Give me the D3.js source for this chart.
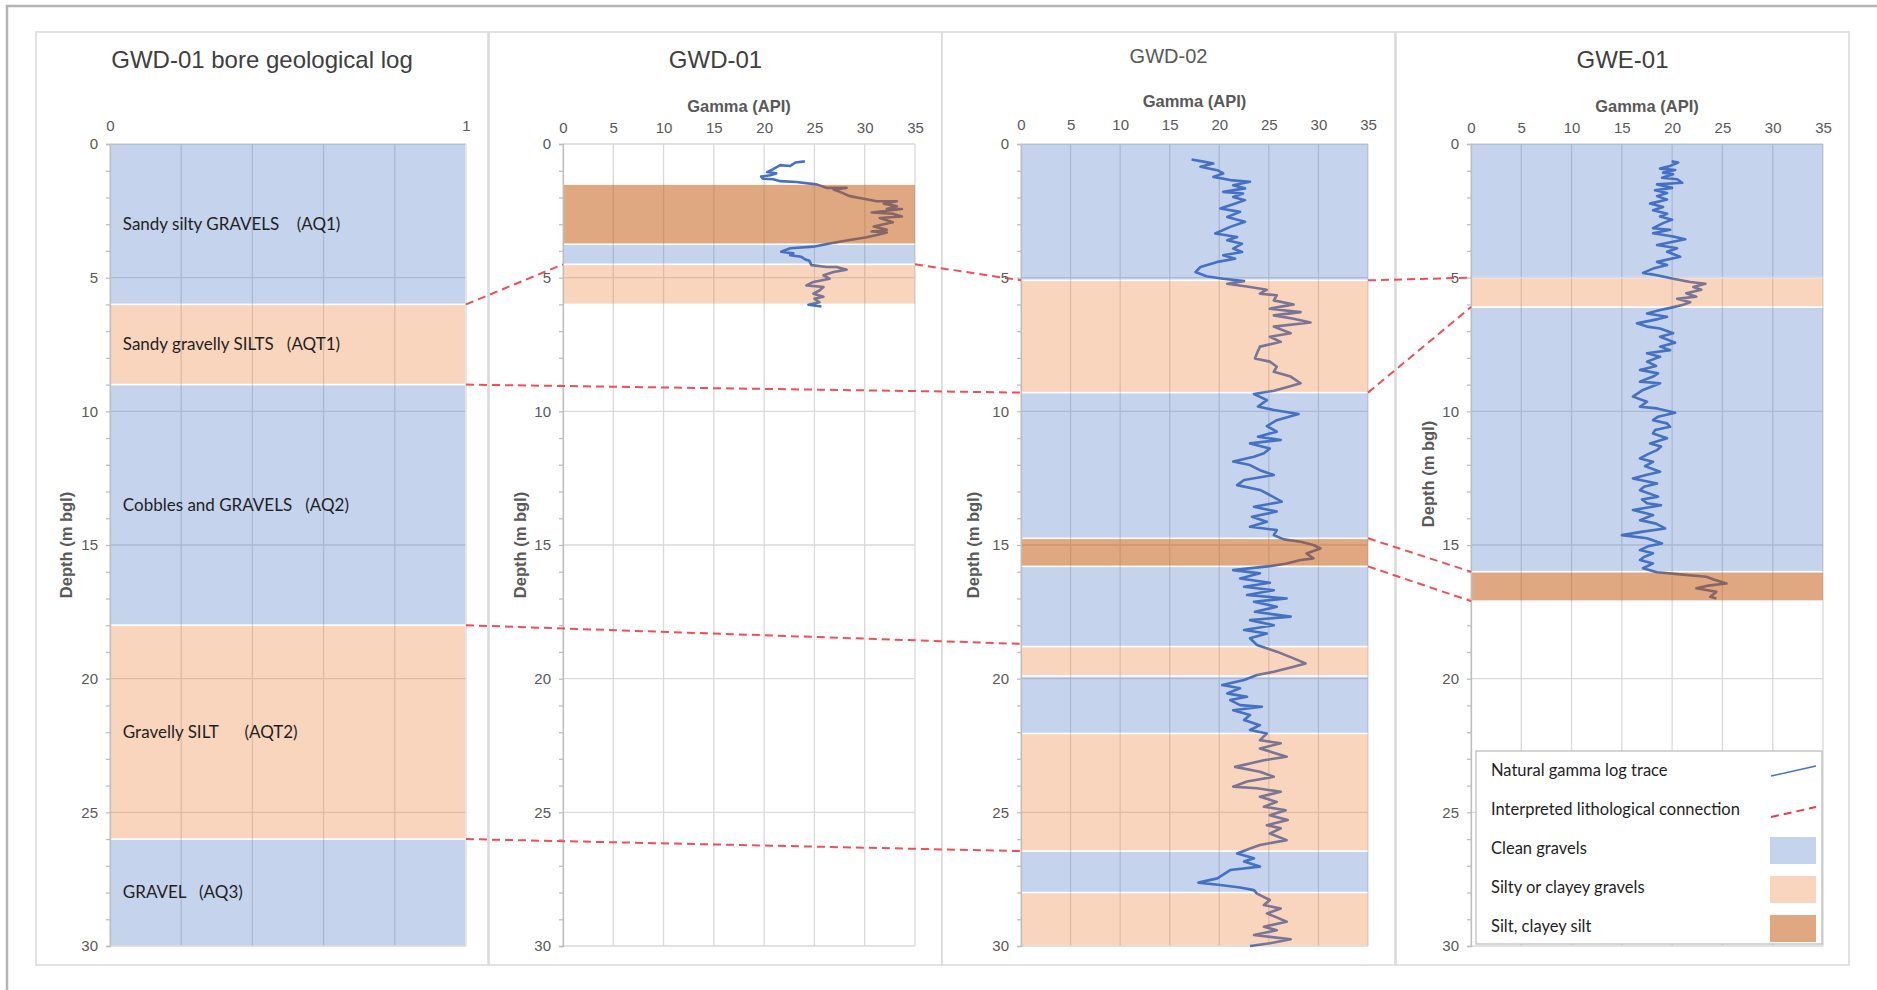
<!DOCTYPE html>
<html>
<head>
<meta charset="utf-8">
<script src="https://cdn.jsdelivr.net/npm/d3@7"></script>
<style>
  body { margin: 0; background: #fff; }
  svg text { font-family: "Liberation Sans", Arial, sans-serif; }
  .calib { font-family: Lato, "Open Sans", sans-serif; white-space: pre; }
</style>
</head>
<body>
<svg id="chart" width="1877" height="990"></svg>
<script>
// axis ticks
const depthTicks = [0, 5, 10, 15, 20, 25, 30];
const gammaTicks = [0, 5, 10, 15, 20, 25, 30, 35];
const logTicks = [0, 0.2, 0.4, 0.6, 0.8, 1];
const logTickLabels = [0, 1];

const panelTitles = ["GWD-01 bore geological log", "GWD-01", "GWD-02", "GWE-01"];

// GWD-01 geological log (m bgl)
const logTop = [0, 6, 9, 18, 26];
const logBase = [6, 9, 18, 26, 30];
const logUnit = ["gravel", "silty", "gravel", "silty", "gravel"];
const logLabel = [
  "Sandy silty GRAVELS    (AQ1)",
  "Sandy gravelly SILTS   (AQT1)",
  "Cobbles and GRAVELS   (AQ2)",
  "Gravelly SILT      (AQT2)",
  "GRAVEL   (AQ3)"
];

// interpreted units on each gamma log
const gwd01Top = [1.5, 3.75, 4.5];
const gwd01Base = [3.75, 4.5, 6.0];
const gwd01Unit = ["silt", "gravel", "silty"];

const gwd02Top = [0, 5.1, 9.3, 14.75, 15.8, 18.8, 19.9, 22.05, 26.45, 28.0];
const gwd02Base = [5.1, 9.3, 14.75, 15.8, 18.8, 19.9, 22.05, 26.45, 28.0, 30];
const gwd02Unit = ["gravel", "silty", "gravel", "silt", "gravel", "silty", "gravel", "silty", "gravel", "silty"];

const gwe01Top = [0, 5.0, 6.1, 16.0];
const gwe01Base = [5.0, 6.1, 16.0, 17.1];
const gwe01Unit = ["gravel", "silty", "gravel", "silt"];

// natural gamma traces
const gwd01Depth = [0.65, 0.69, 0.82, 0.79, 0.94, 1.05, 1.10, 1.17, 1.22, 1.30, 1.32, 1.39, 1.42, 1.51, 1.64, 1.64, 1.70, 1.80, 1.95,
  2.05, 2.14, 2.14, 2.23, 2.33, 2.43, 2.43, 2.56, 2.61, 2.71, 2.77, 2.93, 3.09, 3.21, 3.27, 3.31, 3.40, 3.49, 3.61, 3.72, 3.84,
  3.90, 4.03, 4.09, 4.16, 4.22, 4.32, 4.37, 4.53, 4.60, 4.60, 4.70, 4.79, 4.91, 5.04, 5.16, 5.29, 5.35, 5.48, 5.60, 5.71, 5.79,
  5.92, 6.01, 6.08];
const gwd01Gamma = [24.05, 23.1, 22.6, 21.6, 20.9, 20.3, 21.2, 20.6, 19.7, 19.9, 20.9, 21.6, 23.2, 25.2, 26.2, 28.2, 26.9, 27.6, 28.5,
  29.9, 31.2, 33.2, 31.9, 33.2, 32.2, 33.7, 30.7, 32.8, 33.7, 31.5, 32.8, 30.9, 32.2, 30.7, 32.2, 31.2, 30.2, 28.2, 26.5, 24.9,
  22.6, 21.7, 22.9, 22.6, 23.7, 24.1, 24.5, 24.7, 26.2, 27.2, 28.2, 26.9, 25.9, 26.5, 24.9, 24.2, 25.9, 25.5, 24.9, 25.9, 25.0,
  25.5, 24.4, 25.7];

const gwd02Depth = [0.58, 0.66, 0.73, 0.85, 0.98, 1.10, 1.23, 1.35, 1.41, 1.54, 1.66, 1.79, 1.85, 1.98, 2.10, 2.25, 2.41, 2.54,
  2.73, 2.91, 3.10, 3.35, 3.48, 3.60, 3.73, 3.91, 4.04, 4.16, 4.29, 4.41, 4.60, 4.79, 4.95, 5.04, 5.13, 5.23, 5.35, 5.45, 5.60,
  5.66, 5.85, 6.00, 6.16, 6.29, 6.41, 6.54, 6.68, 6.83, 7.08, 7.21, 7.40, 7.58, 7.83, 8.02, 8.14, 8.33, 8.52, 8.70, 8.95, 9.10,
  9.23, 9.35, 9.58, 9.82, 9.95, 10.10, 10.33, 10.55, 10.76, 10.95, 11.07, 11.20, 11.39, 11.57, 11.70, 11.88, 12.01, 12.20, 12.38,
  12.57, 12.76, 12.94, 13.13, 13.38, 13.57, 13.75, 13.94, 14.13, 14.32, 14.44, 14.63, 14.79, 14.88, 15.00, 15.13, 15.32, 15.50,
  15.56, 15.69, 15.79, 15.94, 16.06, 16.25, 16.41, 16.56, 16.69, 16.87, 17.00, 17.12, 17.31, 17.50, 17.68, 17.81, 18.00, 18.18,
  18.31, 18.49, 18.74, 18.99, 19.24, 19.43, 19.55, 19.74, 19.86, 20.05, 20.24, 20.36, 20.55, 20.68, 20.80, 20.99, 21.05, 21.18,
  21.36, 21.55, 21.74, 21.92, 22.05, 22.30, 22.42, 22.61, 22.92, 23.05, 23.30, 23.48, 23.67, 23.85, 24.04, 24.10, 24.23, 24.42,
  24.61, 24.79, 24.92, 25.11, 25.29, 25.48, 25.60, 25.79, 26.04, 26.22, 26.35, 26.54, 26.72, 26.84, 27.03, 27.16, 27.47, 27.63,
  27.72, 27.81, 27.91, 28.04, 28.28, 28.47, 28.60, 28.78, 29.09, 29.28, 29.41, 29.59, 29.75, 29.90, 30.0];
const gwd02Gamma = [17.2, 18.4, 19.4, 18.1, 19.8, 20.4, 19.4, 21.1, 23.1, 21.4, 22.6, 20.4, 22.4, 21.4, 22.6, 21.4, 20.1, 22.1,
  20.8, 22.6, 21.1, 19.6, 21.8, 20.8, 22.3, 21.4, 22.3, 20.4, 21.6, 19.8, 18.1, 17.6, 18.7, 20.4, 22.5, 20.8, 23.1, 24.8, 24.1,
  25.8, 25.5, 27.5, 25.1, 28.2, 25.5, 27.5, 29.2, 25.5, 27.2, 25.1, 26.2, 24.1, 23.8, 23.6, 25.1, 25.8, 25.5, 27.2, 28.2, 26.8,
  25.5, 23.5, 24.8, 23.9, 25.5, 28.0, 25.8, 24.8, 25.8, 23.9, 26.2, 23.1, 25.1, 24.5, 23.5, 21.4, 23.1, 24.1, 25.5,
  22.5, 21.8, 24.1, 25.1, 26.3, 23.5, 25.8, 23.3, 24.8, 23.1, 25.8, 25.5, 26.5, 28.2, 29.5, 30.2, 28.8, 29.5,
  28.2, 26.8, 25.1, 21.4, 24.1, 22.1, 25.1, 22.5, 25.5, 22.8, 26.8, 23.5, 25.8, 23.6, 27.2, 23.1, 25.5, 22.5,
  24.8, 23.1, 23.8, 25.8, 27.5, 28.7, 27.5, 25.5, 23.8, 22.5, 20.3, 22.1, 20.8, 22.8, 21.1, 22.1, 24.3, 21.4,
  23.1, 22.5, 24.1, 23.1, 24.8, 24.1, 26.2, 24.1, 26.8, 24.5, 21.6, 24.1, 25.5, 22.8, 21.4, 23.8, 26.2, 24.1,
  25.8, 24.5, 26.7, 25.1, 26.9, 24.8, 26.2, 25.1, 26.8, 24.1, 23.1, 21.8, 23.5, 22.5, 24.1, 21.1, 19.8, 17.9,
  20.1, 22.1, 23.5, 23.8, 25.1, 24.5, 26.2, 24.8, 26.8, 24.5, 25.8, 23.5, 27.2, 25.1, 23.1];

const gwe01Depth = [0.65, 0.69, 0.82, 0.92, 0.97, 1.07, 1.13, 1.26, 1.32, 1.45, 1.51, 1.64, 1.73, 1.83, 1.95, 2.08, 2.23, 2.36,
  2.48, 2.61, 2.71, 2.83, 2.96, 3.15, 3.21, 3.34, 3.46, 3.56, 3.78, 3.90, 4.03, 4.22, 4.41, 4.53, 4.66, 4.82, 4.91, 5.04, 5.16,
  5.23, 5.35, 5.45, 5.58, 5.71, 5.79, 5.92, 6.01, 6.13, 6.21, 6.34, 6.46, 6.55, 6.71, 6.83, 6.90, 7.08, 7.21, 7.43, 7.58, 7.71,
  7.83, 7.96, 8.14, 8.30, 8.45, 8.58, 8.70, 8.89, 8.95, 9.20, 9.45, 9.64, 9.83, 9.89, 10.05, 10.20, 10.33, 10.45, 10.58, 10.70,
  10.83, 11.01, 11.20, 11.32, 11.45, 11.60, 11.76, 11.89, 12.05, 12.26, 12.38, 12.51, 12.70, 12.82, 12.95, 13.19, 13.30, 13.44,
  13.51, 13.69, 13.88, 14.07, 14.20, 14.38, 14.50, 14.63, 14.75, 14.94, 15.05, 15.19, 15.31, 15.45, 15.56, 15.69, 15.87, 16.02,
  16.10, 16.19, 16.30, 16.44, 16.52, 16.62, 16.75, 16.94, 17.00];
const gwe01Gamma = [19.95, 20.6, 19.8, 18.8, 20.3, 19.1, 20.1, 19.0, 20.5, 21.0, 18.5, 20.0, 18.3, 19.5, 18.5, 19.5, 17.8, 19.1,
  18.1, 19.5, 18.8, 20.0, 19.1, 18.1, 19.8, 18.1, 20.1, 21.3, 18.5, 20.5, 19.5, 20.8, 18.5, 19.5, 18.1, 17.1, 18.5, 20.1, 21.8,
  23.3, 22.1, 22.9, 21.4, 22.4, 20.5, 21.8, 21.1, 19.8, 18.8, 17.5, 19.5, 18.6, 16.5, 17.5, 18.8, 20.1, 18.8, 20.3, 18.8, 19.8,
  17.5, 18.8, 17.5, 18.4, 16.8, 18.6, 18.1, 16.8, 18.8, 17.1, 16.1, 17.5, 16.8, 18.5, 20.3, 18.6, 18.1, 19.5, 19.8, 18.3,
  18.1, 19.5, 17.8, 18.9, 18.5, 17.6, 16.8, 18.1, 17.3, 18.8, 17.4, 16.1, 18.5, 17.2, 16.8, 18.6, 17.0, 17.5,
  18.9, 16.1, 18.1, 16.8, 18.4, 19.3, 17.1, 15.0, 17.5, 19.0, 17.6, 16.8, 18.1, 17.2, 16.8, 18.1, 17.1, 18.5,
  20.8, 23.4, 24.2, 25.4, 23.6, 22.4, 24.4, 23.8, 24.4];

// interpreted lithological connections (panel index, depth) -> (panel index, depth)
const linkFromPanel = [0, 0, 0, 0, 1, 2, 2, 2, 2];
const linkFromDepth = [6.0, 9.0, 18.0, 26.0, 4.5, 5.1, 9.3, 14.75, 15.8];
const linkToPanel = [1, 2, 2, 2, 2, 3, 3, 3, 3];
const linkToDepth = [4.5, 9.3, 18.7, 26.45, 5.1, 5.0, 6.1, 16.0, 17.1];

const legendLabels = ["Natural gamma log trace", "Interpreted lithological connection", "Clean gravels", "Silty or clayey gravels", "Silt, clayey silt"];
const legendKinds = ["trace", "link", "gravel", "silty", "silt"];

const unitFill = { gravel: "#4472c4", silty: "#ed7d31", silt: "#c55a11" };
const unitOpacity = { gravel: 0.31, silty: 0.32, silt: 0.53 };

const svg = d3.select("#chart");

// outer frame (top and left only)
svg.append("path").attr("d", "M7,990V6H1877").attr("fill", "none").attr("stroke", "#b4b4b4").attr("stroke-width", 2.5);

const y = d3.scaleLinear().domain([0, 30]).range([144, 946]);

const panels = [
  { box: [36, 488], plot: [110, 466], log: true, titleSize: 24, titleY: 68, titleColor: "#404040", tickPad: 13, depthY: 545, depthOff: 38 },
  { box: [489, 942], plot: [563, 915], trace: [gwd01Depth, gwd01Gamma], bands: [gwd01Top, gwd01Base, gwd01Unit],
    titleSize: 24, titleY: 68, titleColor: "#404040", tickPad: 11, gammaY: 112, depthY: 545, depthOff: 37 },
  { box: [942, 1395], plot: [1021, 1368], trace: [gwd02Depth, gwd02Gamma], bands: [gwd02Top, gwd02Base, gwd02Unit],
    titleSize: 20, titleY: 63, titleColor: "#595959", tickPad: 14, gammaY: 107, depthY: 545, depthOff: 42 },
  { box: [1396, 1849], plot: [1471, 1823], trace: [gwe01Depth, gwe01Gamma], bands: [gwe01Top, gwe01Base, gwe01Unit],
    titleSize: 24, titleY: 68, titleColor: "#404040", tickPad: 11, gammaY: 112, depthY: 474, depthOff: 37 }
];
panels[0].bands = [logTop, logBase, logUnit];

panels.forEach((p, i) => {
  const x = d3.scaleLinear().domain(p.log ? [0, 1] : [0, 35]).range(p.plot);
  p.x = x;

  // chart box
  svg.append("rect")
    .attr("x", p.box[0]).attr("y", 32)
    .attr("width", p.box[1] - p.box[0]).attr("height", 933)
    .attr("fill", "#fff").attr("stroke", "#d9d9d9").attr("stroke-width", 1.5);

  const g = svg.append("g");

  // gridlines
  g.selectAll(".vg").data(p.log ? logTicks : gammaTicks).enter().append("line")
    .attr("x1", d => x(d)).attr("x2", d => x(d))
    .attr("y1", y(0)).attr("y2", y(30))
    .attr("stroke", "#d9d9d9").attr("stroke-width", 1.3);
  g.selectAll(".hg").data(depthTicks).enter().append("line")
    .attr("x1", p.plot[0]).attr("x2", p.plot[1])
    .attr("y1", d => y(d)).attr("y2", d => y(d))
    .attr("stroke", "#d9d9d9").attr("stroke-width", 1.3);

  // gamma trace, drawn under the translucent unit bands
  if (p.trace) {
    const pts = p.trace[0].map((d, k) => [p.trace[1][k], d]);
    g.append("path")
      .datum(pts)
      .attr("fill", "none")
      .attr("stroke", "#4472c4")
      .attr("stroke-width", 2.6)
      .attr("stroke-linejoin", "round")
      .attr("d", d3.line().x(d => x(d[0])).y(d => y(d[1])));
  }

  // unit bands
  const [tops, bases, units] = p.bands;
  g.selectAll(".band").data(tops).enter().append("rect")
    .attr("x", p.plot[0])
    .attr("width", p.plot[1] - p.plot[0] - (p.log ? 1 : 0))
    .attr("y", (d, k) => y(d) + (d > 0 ? 0.8 : 0))
    .attr("height", (d, k) => y(bases[k]) - y(d) - (d > 0 ? 0.8 : 0) - 0.8)
    .attr("fill", (d, k) => unitFill[units[k]])
    .attr("fill-opacity", (d, k) => unitOpacity[units[k]]);

  // depth axis
  const ya = g.append("g")
    .attr("transform", `translate(${p.plot[0]},0)`)
    .call(d3.axisLeft(y).tickValues(d3.range(0, 31)).tickSize(4).tickPadding(8)
      .tickFormat(d => d % 5 === 0 ? d : ""));
  ya.select(".domain").attr("stroke", "#bfbfbf").attr("stroke-width", 1.3);
  ya.selectAll(".tick line").attr("stroke", "#bfbfbf").attr("stroke-width", 1.3);
  ya.selectAll("text").attr("fill", "#595959").style("font-size", "15px")
    .style("font-family", "'Liberation Sans', Arial, sans-serif");

  // top axis labels
  const xa = g.append("g")
    .attr("transform", `translate(0,${y(0)})`)
    .call(d3.axisTop(x).tickValues(p.log ? logTickLabels : gammaTicks).tickSize(0).tickPadding(p.tickPad)
      .tickFormat(d3.format("d")));
  xa.select(".domain").remove();
  xa.selectAll("text").attr("fill", "#595959").style("font-size", "15px")
    .style("font-family", "'Liberation Sans', Arial, sans-serif");

  if (!p.log) {
    svg.append("text")
      .attr("x", (p.plot[0] + p.plot[1]) / 2).attr("y", p.gammaY)
      .attr("text-anchor", "middle")
      .attr("fill", "#595959").style("font-size", "16.5px").style("font-weight", "bold")
      .text("Gamma (API)");
  }

  // depth axis title
  svg.append("text")
    .attr("transform", `translate(${p.plot[0] - p.depthOff},${p.depthY}) rotate(-90)`)
    .attr("text-anchor", "middle")
    .attr("fill", "#595959").style("font-size", "16.5px").style("font-weight", "bold")
    .text("Depth (m bgl)");

  // chart title
  svg.append("text")
    .attr("x", (p.box[0] + p.box[1]) / 2).attr("y", p.titleY)
    .attr("text-anchor", "middle")
    .attr("fill", p.titleColor).style("font-size", p.titleSize + "px")
    .text(panelTitles[i]);
});

// geological unit labels on the bore log
const logX = panels[0].x;
svg.append("g").selectAll("text").data(logLabel).enter().append("text")
  .attr("class", "calib")
  .attr("x", logX(0.036))
  .attr("y", (d, k) => y((logTop[k] + logBase[k]) / 2))
  .attr("dy", "0.35em")
  .attr("fill", "#1f1f1f")
  .style("font-size", "17px")
  .text(d => d);

// lithological connections
svg.append("g").selectAll("line").data(linkFromDepth).enter().append("line")
  .attr("x1", (d, k) => panels[linkFromPanel[k]].plot[1])
  .attr("y1", d => y(d))
  .attr("x2", (d, k) => panels[linkToPanel[k]].plot[0])
  .attr("y2", (d, k) => y(linkToDepth[k]))
  .attr("stroke", "#f23a45").attr("stroke-opacity", 0.9)
  .attr("stroke-width", 2).attr("stroke-dasharray", "8,5");

// legend
const lg = svg.append("g").attr("transform", "translate(1476,751)");
lg.append("rect").attr("width", 346).attr("height", 193)
  .attr("fill", "#fff").attr("stroke", "#bfbfbf").attr("stroke-width", 1.3);
const rowY = d3.scalePoint().domain(d3.range(legendLabels.length)).range([25, 181]);
legendLabels.forEach((lab, k) => {
  const ry = rowY(k);
  lg.append("text").attr("class", "calib")
    .attr("x", 15).attr("y", ry)
    .attr("fill", "#1f1f1f").style("font-size", "16.5px")
    .text(lab);
  const kind = legendKinds[k];
  if (kind === "trace") {
    lg.append("line").attr("x1", 295).attr("x2", 340).attr("y1", ry).attr("y2", ry - 10)
      .attr("stroke", "#4472c4").attr("stroke-width", 1.5);
  } else if (kind === "link") {
    lg.append("line").attr("x1", 295).attr("x2", 340).attr("y1", ry + 2).attr("y2", ry - 8)
      .attr("stroke", "#f23a45").attr("stroke-width", 2).attr("stroke-dasharray", "8,5");
  } else {
    lg.append("rect").attr("x", 294).attr("y", ry - 17).attr("width", 46).attr("height", 27)
      .attr("fill", unitFill[kind]).attr("fill-opacity", unitOpacity[kind]);
  }
});
</script>
</body>
</html>
